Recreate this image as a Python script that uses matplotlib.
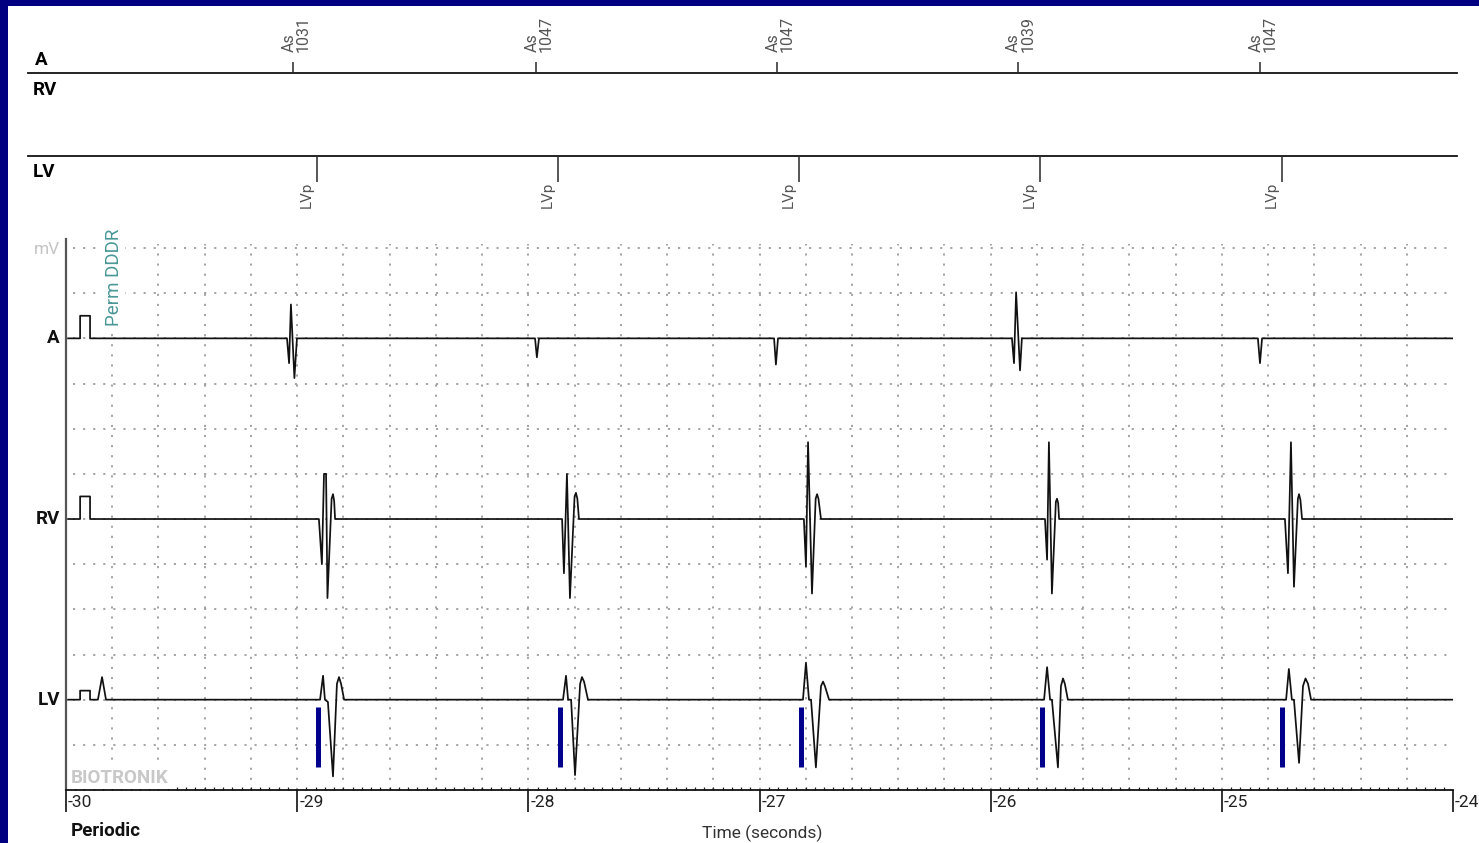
import matplotlib
matplotlib.use('Agg')
import matplotlib.pyplot as plt
from matplotlib.lines import Line2D
from matplotlib.patches import Rectangle
from matplotlib.ticker import MultipleLocator
import matplotlib.transforms as mtransforms

plt.rcParams['font.family'] = ['Roboto', 'DejaVu Sans']

# --- data (time in s, amplitude in grid units) ---
a_t = [-29.991, -29.939, -29.939, -29.896, -29.896,
       -29.044, -29.035, -29.027, -29.012, -29.001,
       -27.971, -27.963, -27.954,
       -26.937, -26.929, -26.920,
       -25.908, -25.899, -25.890, -25.873, -25.865,
       -24.844, -24.835, -24.826, -24.0]
a_v = [0, 0, 0.5, 0.5, 0,
       0, -0.55, 0.75, -0.88, 0,
       0, -0.42, 0,
       0, -0.58, 0,
       0, -0.55, 1.02, -0.71, 0,
       0, -0.55, 0, 0]

rv_t = [-29.991, -29.939, -29.939, -29.896, -29.896,
        -28.906, -28.893, -28.884, -28.875, -28.869, -28.851, -28.845, -28.840, -28.836,
        -27.854, -27.846, -27.833, -27.820, -27.800, -27.794, -27.788, -27.781,
        -26.808, -26.799, -26.790, -26.773, -26.757, -26.751, -26.745, -26.734,
        -25.765, -25.756, -25.748, -25.735, -25.718, -25.713, -25.708, -25.704,
        -24.727, -24.714, -24.701, -24.688, -24.671, -24.666, -24.660, -24.653,
        -24.0]
rv_v = [0, 0, 0.5, 0.5, 0,
        0, -1.0, 1.0, 1.0, -1.75, 0.45, 0.55, 0.4, 0,
        0, -1.2, 1.0, -1.75, 0.5, 0.58, 0.45, 0,
        0, -1.05, 1.7, -1.65, 0.45, 0.55, 0.45, 0,
        0, -0.9, 1.7, -1.65, 0.38, 0.45, 0.35, 0,
        0, -1.2, 1.7, -1.5, 0.45, 0.55, 0.42, 0,
        0]

lv_t = [-29.991, -29.939, -29.939, -29.896, -29.896, -29.862, -29.844, -29.827,
        -28.901, -28.888, -28.880, -28.867, -28.845, -28.828, -28.819, -28.810, -28.797,
        -27.850, -27.837, -27.828, -27.815, -27.798, -27.776, -27.768, -27.759, -27.742,
        -26.812, -26.799, -26.786, -26.777, -26.756, -26.734, -26.725, -26.717, -26.699,
        -25.769, -25.756, -25.743, -25.735, -25.709, -25.696, -25.687, -25.679, -25.666,
        -24.722, -24.710, -24.697, -24.688, -24.666, -24.649, -24.638, -24.627, -24.614,
        -24.0]
lv_v = [0, 0, 0.2, 0.2, 0, 0, 0.5, 0,
        0, 0.53, 0, -0.05, -1.7, 0.35, 0.5, 0.35, 0,
        0, 0.53, 0, 0, -1.67, 0.35, 0.5, 0.4, 0,
        0, 0.82, 0, 0, -1.5, 0.3, 0.4, 0.3, 0,
        0, 0.72, 0, 0, -1.5, 0.3, 0.47, 0.35, 0,
        0, 0.68, 0, 0, -1.4, 0.3, 0.47, 0.35, 0,
        0]

as_times = [-29.018, -27.967, -26.924, -25.882, -24.835]
as_values = ['1031', '1047', '1047', '1039', '1047']
lvp_times = [-28.914, -27.872, -26.829, -25.787, -24.740]
bar_times = [-28.910, -27.863, -26.820, -25.778, -24.738]

channels = ['A', 'RV', 'LV']
baselines = [10, 6, 2]
time_ticks = [-30, -29, -28, -27, -26, -25, -24]

W, H = 1479, 843


def fx(x):
    return x / W


def fy(y):
    return 1 - y / H


fig = plt.figure(figsize=(W / 100, H / 100), dpi=100, facecolor='#000080')
fig.add_artist(Rectangle((fx(8), 0), 1, fy(6), transform=fig.transFigure,
                         facecolor='white', edgecolor='none', zorder=-5))

ax = fig.add_axes([fx(66), fy(790), fx(1453) - fx(66), fy(239) - fy(790)])
ax.set_facecolor('none')
ax.set_xlim(-30, -24)
ax.set_ylim(0, 12.2)

# dotted grid
grid_kw = dict(color='#8c8c8c', lw=1.1, ls=(0, (1.4, 5.2)), zorder=1)
for k in range(1, 13):
    ax.plot([-29.97, -24], [k, k], **grid_kw)
for i in range(1, 30):
    t = -30 + 0.2 * i
    ax.plot([t, t], [0, 12.1], **grid_kw)

# traces
for tt, vv, base in zip([a_t, rv_t, lv_t], [a_v, rv_v, lv_v], baselines):
    ax.plot(tt, [base + v for v in vv], color='#111111', lw=1.25, zorder=3,
            solid_joinstyle='round')

# pacing bars on LV
for t in bar_times:
    ax.plot([t, t], [0.51, 1.84], color='#00008c', lw=3.6,
            solid_capstyle='butt', zorder=4)

# axes styling
for s in ['top', 'right']:
    ax.spines[s].set_visible(False)
ax.spines['left'].set_color('#555555')
ax.spines['left'].set_linewidth(1.6)
ax.spines['bottom'].set_color('#111111')
ax.spines['bottom'].set_linewidth(1.3)
ax.set_yticks([])
ax.set_xticks(time_ticks)
ax.xaxis.set_minor_locator(MultipleLocator(0.04))
ax.tick_params(axis='x', which='major', length=16, width=1.3, color='#222222',
               direction='out', labelbottom=False)
ax.tick_params(axis='x', which='minor', length=2, width=0.9, color='#222222',
               direction='in')

lab_off = mtransforms.offset_copy(ax.transData, fig=fig, x=2, y=-5, units='dots')
for t in time_ticks:
    ax.text(t, 0, str(t), transform=lab_off, ha='left', va='top',
            fontsize=12.5, color='#222222', clip_on=False)

# channel labels beside traces
ch_off = mtransforms.offset_copy(ax.transData, fig=fig, x=-6, y=0, units='dots')
for name, base in zip(channels, baselines):
    ax.text(-30, base, name, transform=ch_off, ha='right', va='center',
            fontsize=13.5, fontweight='bold', color='#111111', clip_on=False)

white_box = dict(facecolor='white', edgecolor='none', pad=1.5)
fig.text(fx(60), fy(250), 'mV', ha='right', va='center', fontsize=12.5, color='#c4c4c4')
fig.text(fx(114), fy(326), 'Perm DDDR', rotation=90, ha='center', va='bottom',
         fontsize=13.5, color='#4a9696', bbox=white_box, zorder=5)
fig.text(fx(71), fy(778), 'BIOTRONIK', ha='left', va='center', fontsize=13.5,
         fontweight='bold', color='#c8c8c8', bbox=white_box, zorder=5)
fig.text(fx(71), fy(831), 'Periodic', ha='left', va='center', fontsize=13.5,
         fontweight='bold', color='#111111')
fig.text(fx(762), fy(833), 'Time (seconds)', ha='center', va='center',
         fontsize=12.5, color='#333333')

# marker channel panel
for y in [73, 156]:
    fig.add_artist(Line2D([fx(28), fx(1457)], [fy(y), fy(y)], transform=fig.transFigure,
                          color='#111111', lw=1.3))
fig.text(fx(35), fy(60), 'A', ha='left', va='center', fontsize=13.5, fontweight='bold')
fig.text(fx(33), fy(90), 'RV', ha='left', va='center', fontsize=13.5, fontweight='bold')
fig.text(fx(33), fy(172), 'LV', ha='left', va='center', fontsize=13.5, fontweight='bold')

blend = mtransforms.blended_transform_factory(ax.transData, fig.transFigure)
as_off = mtransforms.offset_copy(blend, fig=fig, x=3, y=0, units='dots')
lvp_off = mtransforms.offset_copy(blend, fig=fig, x=-3, y=0, units='dots')
for t, v in zip(as_times, as_values):
    ax.plot([t, t], [fy(63), fy(71)], transform=blend, color='#555555', lw=1.4, clip_on=False)
    ax.text(t, fy(52), 'As\n' + v, transform=as_off, rotation=90, ha='center', va='bottom',
            multialignment='left', linespacing=0.95, fontsize=11.5, color='#555555',
            clip_on=False)
for t in lvp_times:
    ax.plot([t, t], [fy(158), fy(181)], transform=blend, color='#555555', lw=1.4, clip_on=False)
    ax.text(t, fy(182), 'LVp', transform=lvp_off, rotation=90, ha='right', va='top',
            fontsize=11, color='#555555', clip_on=False)

fig.savefig('out.png', dpi=100, facecolor=fig.get_facecolor())
